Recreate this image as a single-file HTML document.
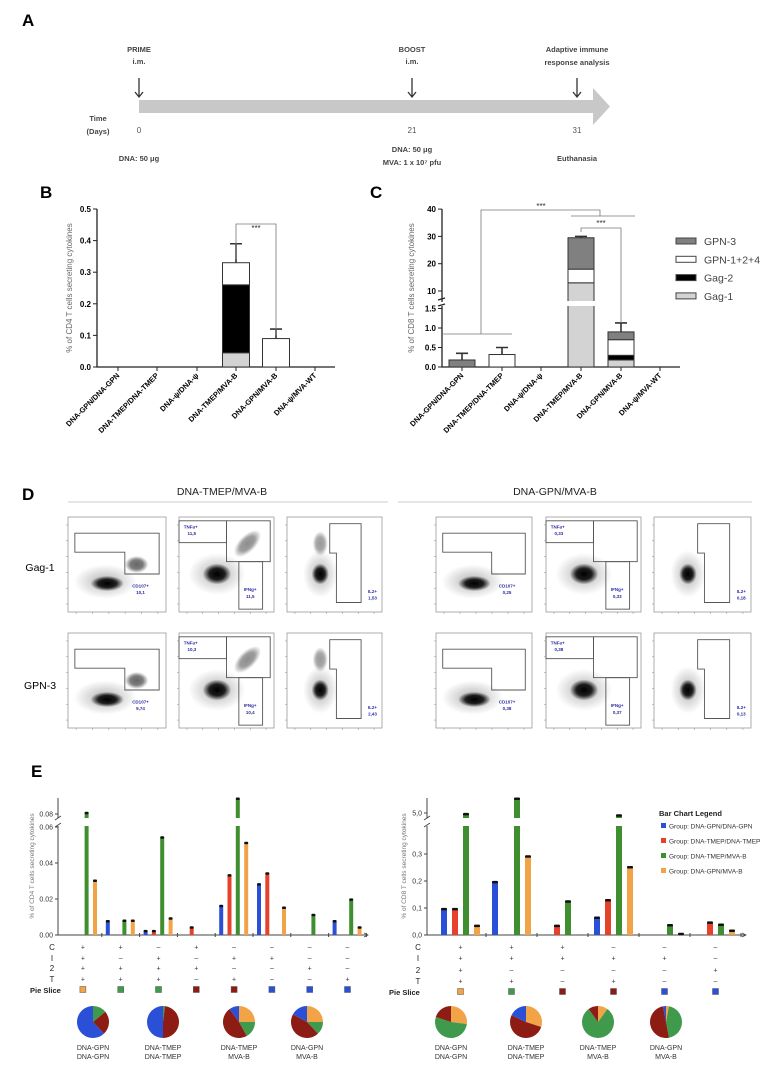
<!DOCTYPE html>
<html><head><meta charset="utf-8"><style>
html,body{margin:0;padding:0;background:#fff;}
svg{display:block;font-family:"Liberation Sans",sans-serif;}
</style></head><body>
<svg id="fig" width="766" height="1071" viewBox="0 0 766 1071" xmlns="http://www.w3.org/2000/svg">
<defs>
<radialGradient id="blob"><stop offset="0" stop-color="#000" stop-opacity="1"/><stop offset="0.55" stop-color="#000" stop-opacity="0.85"/><stop offset="1" stop-color="#000" stop-opacity="0"/></radialGradient>
<radialGradient id="cloud"><stop offset="0" stop-color="#000" stop-opacity="0.3"/><stop offset="1" stop-color="#000" stop-opacity="0"/></radialGradient>
</defs>
<!-- Panel A -->
<g>
<text x="22" y="26" font-size="17" font-weight="bold">A</text>
<rect x="139" y="100" width="456" height="13" fill="#c8c8c8"/>
<polygon points="593,88 610,106.5 593,125" fill="#c8c8c8"/>
<g font-size="7.5" fill="#444" text-anchor="middle" font-weight="bold">
<text x="139" y="52">PRIME</text><text x="139" y="64">i.m.</text>
<text x="412" y="52">BOOST</text><text x="412" y="64">i.m.</text>
<text x="577" y="52">Adaptive immune</text><text x="577" y="65">response analysis</text>
<text x="98" y="121">Time</text><text x="98" y="134">(Days)</text>
<text x="139" y="161">DNA: 50 μg</text>
<text x="412" y="152">DNA: 50 μg</text><text x="412" y="165">MVA: 1 x 10⁷ pfu</text>
<text x="577" y="161">Euthanasia</text>
</g>
<g font-size="8" fill="#555" text-anchor="middle">
<text x="139" y="133">0</text><text x="412" y="133">21</text><text x="577" y="133">31</text>
</g>
<g stroke="#333" stroke-width="1.3" fill="none">
<path d="M139 78V97M135 92L139 97L143 92"/><path d="M412 78V97M408 92L412 97L416 92"/><path d="M577 78V97M573 92L577 97L581 92"/>
</g>
</g>
<g id="pB"></g>
<g id="pC"></g>
<g id="pD"></g>
<g id="pE"></g>
</svg>
<script>
// ---------- data ----------
const groupsBC = ["DNA-GPN/DNA-GPN","DNA-TMEP/DNA-TMEP","DNA-ψ/DNA-ψ","DNA-TMEP/MVA-B","DNA-GPN/MVA-B","DNA-ψ/MVA-WT"];
const bGag1 = [0,0,0,0.045,0,0];
const bGag2 = [0,0,0,0.215,0,0];
const bGpn124 = [0,0,0,0.07,0.09,0];
const bErr = [null,null,null,0.39,0.12,null];
const cGag1 = [0,0,0,13,0.18,0];
const cGag2 = [0,0,0,0,0.12,0];
const cGpn124 = [0,0.32,0,5,0.4,0];
const cGpn3 = [0.18,0,0,11.5,0.2,0];
const cErr = [0.35,0.5,null,30,1.13,null];
const bTicks = [0,0.1,0.2,0.3,0.4,0.5];
const cTicksLow = [0,0.5,1.0,1.5];
const cTicksHigh = [10,20,30,40];
const legendC = ["GPN-3","GPN-1+2+4","Gag-2","Gag-1"];
// panel E
const eLeftBlue = [0,0.0075,0.002,0,0.016,0.028,0,0.0075];
const eLeftRed = [0,0,0.002,0.004,0.033,0.034,0,0];
const eLeftGreen = [0.0805,0.0078,0.054,0,0.09,0,0.011,0.0195];
const eLeftOrange = [0.030,0.0078,0.009,0,0.051,0.015,0,0.004];
const eLeftC = ["+","+","-","+","-","-","-","-"];
const eLeftI = ["+","-","+","-","+","+","-","-"];
const eLeft2 = ["+","+","+","+","-","-","+","-"];
const eLeftT = ["+","+","+","-","+","-","-","+"];
const eLeftPie = ["o","g","g","r","r","b","b","b"];
const eRightBlue = [0.095,0.195,0,0.063,0,0];
const eRightRed = [0.095,0,0.033,0.128,0,0.045];
const eRightGreen = [4.95,5.5,0.123,4.9,0.035,0.037];
const eRightOrange = [0.033,0.29,0,0.25,0.003,0.015];
const eRightC = ["+","+","+","-","-","-"];
const eRightI = ["+","+","+","+","+","-"];
const eRight2 = ["+","-","-","-","-","+"];
const eRightT = ["+","+","-","+","-","-"];
const eRightPie = ["o","g","r","r","b","b"];
const pieLabels = [["DNA-GPN","DNA-GPN"],["DNA-TMEP","DNA-TMEP"],["DNA-TMEP","MVA-B"],["DNA-GPN","MVA-B"]];
const pieLeft = [[0,0.14,0.24,0.62],[0,0.02,0.48,0.5],[0.25,0.17,0.48,0.1],[0.25,0.13,0.45,0.17]]; // orange, green, darkred, blue
const pieRight = [[0.27,0.53,0.2,0],[0.3,0,0.52,0.18],[0.1,0.8,0.1,0],[0.03,0.44,0.5,0.03]];
const legendE = ["Group: DNA-GPN/DNA-GPN","Group: DNA-TMEP/DNA-TMEP","Group: DNA-TMEP/MVA-B","Group: DNA-GPN/MVA-B"];

// ---------- helpers ----------
const NS="http://www.w3.org/2000/svg";
function mk(parent,tag,attrs,txt){const e=document.createElementNS(NS,tag);for(const k in attrs)e.setAttribute(k,attrs[k]);if(txt!==undefined)e.textContent=txt;parent.appendChild(e);return e;}
const COL={b:"#2b50d8",r:"#e5412b",g:"#3f8f30",o:"#f2a347",dr:"#8c1c14",pg:"#3f9a4c"};

// ---------- Panel B ----------
(function(){
const g=document.getElementById('pB');
mk(g,'text',{x:40,y:198,'font-size':17,'font-weight':'bold'},'B');
const x0=97,x1=335,yB=v=>367-v*316;
const cx=[118,157,197,236,276,315];
mk(g,'path',{d:`M${x0} ${yB(0.5)}V367H${x1}`,stroke:'#222','stroke-width':1.3,fill:'none'});
bTicks.forEach(t=>{mk(g,'line',{x1:x0-4,x2:x0,y1:yB(t),y2:yB(t),stroke:'#222'});
const l=mk(g,'text',{x:x0-6,y:yB(t)+3,'font-size':8,'font-weight':'bold','text-anchor':'end'},t.toFixed(1));

});
const yt=mk(g,'text',{x:72,y:288,'font-size':8,fill:'#666','text-anchor':'middle',transform:'rotate(-90 72 288)'},'% of CD4 T cells secreting cytokines');


groupsBC.forEach((n,i)=>{
 mk(g,'line',{x1:cx[i],x2:cx[i],y1:367,y2:371,stroke:'#222'});
 const t=mk(g,'text',{x:cx[i]+2,y:376,'font-size':7.5,'font-weight':'bold','text-anchor':'end',transform:`rotate(-45 ${cx[i]+2} 376)`},n);
 
 
 let base=0;const w=27;
 [[bGag1[i],'#d3d3d3'],[bGag2[i],'#000'],[bGpn124[i],'#fff']].forEach(([v,c])=>{
  if(v>0){const r=mk(g,'rect',{x:cx[i]-w/2,y:yB(base+v),width:w,height:yB(base)-yB(base+v),fill:c,stroke:'#333','stroke-width':1});
  
  }
  base+=v;});
 if(bErr[i]!=null){mk(g,'path',{d:`M${cx[i]} ${yB(base)}V${yB(bErr[i])}M${cx[i]-6} ${yB(bErr[i])}H${cx[i]+6}`,stroke:'#333','stroke-width':1.6});}
});
mk(g,'path',{d:`M236 ${yB(0.35)+3}V224H276V${yB(0.1)}`,stroke:'#777',fill:'none','stroke-width':0.8});
mk(g,'text',{x:256,y:231,'font-size':8,'text-anchor':'middle',fill:'#333'},'***');
})();

// ---------- Panel C ----------
(function(){
const g=document.getElementById('pC');
mk(g,'text',{x:370,y:198,'font-size':17,'font-weight':'bold'},'C');
const x0=442,x1=680;
const yC=v=>v<=1.5?367-v*39:291-(v-10)*2.73;
const cx=[462,502,541,581,621,660];
mk(g,'path',{d:`M${x0} 209V302M${x0} 306V367H${x1}`,stroke:'#222','stroke-width':1.3,fill:'none'});
mk(g,'path',{d:`M${x0-4} 300L${x0+3} 298M${x0-4} 306L${x0+3} 304`,stroke:'#222','stroke-width':1.2});
cTicksLow.forEach(t=>{mk(g,'line',{x1:x0-4,x2:x0,y1:yC(t),y2:yC(t),stroke:'#222'});
const l=mk(g,'text',{x:x0-6,y:yC(t)+3,'font-size':8,'font-weight':'bold','text-anchor':'end'},t.toFixed(1));

});
cTicksHigh.forEach(t=>{mk(g,'line',{x1:x0-4,x2:x0,y1:yC(t),y2:yC(t),stroke:'#222'});
const l=mk(g,'text',{x:x0-6,y:yC(t)+3,'font-size':8,'font-weight':'bold','text-anchor':'end'},String(t));

});
const yt=mk(g,'text',{x:414,y:288,'font-size':8,fill:'#666','text-anchor':'middle',transform:'rotate(-90 414 288)'},'% of CD8 T cells secreting cytokines');


groupsBC.forEach((n,i)=>{
 mk(g,'line',{x1:cx[i],x2:cx[i],y1:367,y2:371,stroke:'#222'});
 const t=mk(g,'text',{x:cx[i]+2,y:376,'font-size':7.5,'font-weight':'bold','text-anchor':'end',transform:`rotate(-45 ${cx[i]+2} 376)`},n);
 
 
 let base=0;const w=26;
 [[cGag1[i],'#d3d3d3'],[cGag2[i],'#000'],[cGpn124[i],'#fff'],[cGpn3[i],'#808080']].forEach(([v,c])=>{
  if(v>0){const r=mk(g,'rect',{x:cx[i]-w/2,y:yC(base+v),width:w,height:yC(base)-yC(base+v),fill:c,stroke:'#333','stroke-width':1});
  
  }
  base+=v;});
 if(base>1.5){mk(g,'rect',{x:cx[i]-w/2-1,y:301,width:w+2,height:5,fill:'#fff'});}
 if(cErr[i]!=null){mk(g,'path',{d:`M${cx[i]} ${yC(base)}V${yC(cErr[i])}M${cx[i]-6} ${yC(cErr[i])}H${cx[i]+6}`,stroke:'#333','stroke-width':1.6});}
});
mk(g,'path',{d:'M442 334H512M481 334V210H600V216M571 216H635',stroke:'#777',fill:'none','stroke-width':0.8});
mk(g,'text',{x:541,y:209,'font-size':8,'text-anchor':'middle',fill:'#333'},'***');
mk(g,'path',{d:'M581 232V228H621V323',stroke:'#777',fill:'none','stroke-width':0.8});
mk(g,'text',{x:601,y:226,'font-size':8,'text-anchor':'middle',fill:'#333'},'***');
const lc=['#808080','#fff','#000','#d3d3d3'];
legendC.forEach((n,i)=>{const y=241+i*18.3;
 const r=mk(g,'rect',{x:676,y:y-3,width:20,height:6,fill:lc[i],stroke:'#444'});
 
 
 const t=mk(g,'text',{x:704,y:y+4,'font-size':10.5,fill:'#444'},n);
 
 });
})();

// ---------- Panel D ----------
(function(){
const g=document.getElementById('pD');
mk(g,'text',{x:22,y:500,'font-size':17,'font-weight':'bold'},'D');
mk(g,'text',{x:222,y:495,'font-size':10.5,'text-anchor':'middle',fill:'#222'},'DNA-TMEP/MVA-B');
mk(g,'text',{x:555,y:495,'font-size':10.5,'text-anchor':'middle',fill:'#222'},'DNA-GPN/MVA-B');
mk(g,'line',{x1:68,x2:388,y1:502,y2:502,stroke:'#ccc'});
mk(g,'line',{x1:398,x2:752,y1:502,y2:502,stroke:'#ccc'});
mk(g,'text',{x:40,y:571,'font-size':10.5,'text-anchor':'middle'},'Gag-1');
mk(g,'text',{x:40,y:689,'font-size':10.5,'text-anchor':'middle'},'GPN-3');
const cols=[[68,166],[179,274],[287,382],[436,532],[546,641],[654,751]];
const rows=[[517,612],[633,728]];
const labels=[[["CD107+","10,1"],["TNFa+","11,5","IFNg+","11,5"],["IL2+","1,53"],["CD107+","0,25"],["TNFa+","0,33","IFNg+","0,33"],["IL2+","0,18"]],
[["CD107+","9,74"],["TNFa+","10,3","IFNg+","10,4"],["IL2+","2,43"],["CD107+","0,38"],["TNFa+","0,38","IFNg+","0,37"],["IL2+","0,13"]]];
rows.forEach((ry,ri)=>cols.forEach((cx,ci)=>{
 const x=cx[0],y=ry[0],w=cx[1]-cx[0],h=ry[1]-ry[0];const P=(fx,fy)=>`${x+fx*w},${y+fy*h}`;
 const pg=mk(g,'g',{});
 
 
 mk(pg,'rect',{x,y,width:w,height:h,fill:'#fff',stroke:'#999','stroke-width':0.8});
 const type=ci%3, strong=ci<3;
 const blob=(fx,fy,rx,ry,id)=>mk(pg,'ellipse',{cx:x+fx*w,cy:y+fy*h,rx:rx*w,ry:ry*h,fill:`url(#${id})`});
 const lab=labels[ri][ci];
 if(type===0){
  blob(0.38,0.68,0.32,0.18,'cloud');blob(0.4,0.7,0.17,0.08,'blob');
  if(strong)mk(pg,'ellipse',{cx:x+0.7*w,cy:y+0.5*h,rx:0.12*w,ry:0.09*h,fill:'url(#blob)',opacity:0.6});
  mk(pg,'polygon',{points:[P(0.07,0.17),P(0.93,0.17),P(0.93,0.6),P(0.58,0.6),P(0.58,0.37),P(0.07,0.37)].join(' '),fill:'none',stroke:'#555','stroke-width':0.9});
  mk(pg,'text',{x:x+0.74*w,y:y+0.74*h,'font-size':4.5,fill:'#2a2aa0','text-anchor':'middle','font-weight':'bold'},lab[0]);
  mk(pg,'text',{x:x+0.74*w,y:y+0.81*h,'font-size':4.5,fill:'#2a2aa0','text-anchor':'middle','font-weight':'bold'},lab[1]);
 } else if(type===1){
  blob(0.4,0.6,0.3,0.22,'cloud');blob(0.4,0.6,0.15,0.11,'blob');
  if(strong)mk(pg,'ellipse',{cx:x+0.72*w,cy:y+0.28*h,rx:0.18*w,ry:0.09*h,fill:'url(#blob)',opacity:0.45,transform:`rotate(-45 ${x+0.72*w} ${y+0.28*h})`});
  mk(pg,'rect',{x:x,y:y+0.04*h,width:0.5*w,height:0.23*h,fill:'none',stroke:'#555','stroke-width':0.9});
  mk(pg,'rect',{x:x+0.5*w,y:y+0.04*h,width:0.46*w,height:0.43*h,fill:'none',stroke:'#555','stroke-width':0.9});
  mk(pg,'rect',{x:x+0.63*w,y:y+0.47*h,width:0.25*w,height:0.5*h,fill:'none',stroke:'#555','stroke-width':0.9});
  mk(pg,'text',{x:x+0.05*w,y:y+0.12*h,'font-size':4.5,fill:'#2a2aa0','font-weight':'bold'},lab[0]);
  mk(pg,'text',{x:x+0.09*w,y:y+0.19*h,'font-size':4.5,fill:'#2a2aa0','font-weight':'bold'},lab[1]);
  mk(pg,'text',{x:x+0.75*w,y:y+0.78*h,'font-size':4.5,fill:'#2a2aa0','text-anchor':'middle','font-weight':'bold'},lab[2]);
  mk(pg,'text',{x:x+0.75*w,y:y+0.85*h,'font-size':4.5,fill:'#2a2aa0','text-anchor':'middle','font-weight':'bold'},lab[3]);
 } else {
  blob(0.35,0.6,0.18,0.25,'cloud');blob(0.35,0.6,0.09,0.11,'blob');
  if(strong)mk(pg,'ellipse',{cx:x+0.35*w,cy:y+0.28*h,rx:0.08*w,ry:0.13*h,fill:'url(#blob)',opacity:0.4});
  mk(pg,'polygon',{points:[P(0.45,0.07),P(0.78,0.07),P(0.78,0.9),P(0.52,0.9),P(0.52,0.38),P(0.45,0.38)].join(' '),fill:'none',stroke:'#555','stroke-width':0.9});
  mk(pg,'text',{x:x+0.9*w,y:y+0.8*h,'font-size':4.5,fill:'#2a2aa0','text-anchor':'middle','font-weight':'bold'},lab[0]);
  mk(pg,'text',{x:x+0.9*w,y:y+0.87*h,'font-size':4.5,fill:'#2a2aa0','text-anchor':'middle','font-weight':'bold'},lab[1]);
 }
 for(let k=0;k<6;k++){mk(pg,'line',{x1:x+(k+0.5)*w/6,x2:x+(k+0.5)*w/6,y1:y+h,y2:y+h+2,stroke:'#999','stroke-width':0.6});
  mk(pg,'line',{x1:x-2,x2:x,y1:y+(k+0.5)*h/6,y2:y+(k+0.5)*h/6,stroke:'#999','stroke-width':0.6});}
}));
})();

// ---------- Panel E ----------
(function(){
const g=document.getElementById('pE');
mk(g,'text',{x:31,y:777,'font-size':17,'font-weight':'bold'},'E');
function chart(o){
 const {x0,x1,y,ticksLow,ticksHigh,groupStart,gw,slot,bw,series,rowsData,rowY,rowX,pieRows,pieCX,title,titleX,fmt}=o;
 mk(g,'path',{d:`M${x0} 798V818M${x0} 826V935H${x1}`,stroke:'#444','stroke-width':1,fill:'none'});
 mk(g,'path',{d:`M${x0-3} 820L${x0+3} 816M${x0-3} 827L${x0+3} 823`,stroke:'#444','stroke-width':0.9});
 mk(g,'path',{d:`M${x1-3} 933L${x1+1} 935L${x1-3} 937`,stroke:'#444','stroke-width':0.8,fill:'none'});
 ticksLow.concat(ticksHigh).forEach(t=>{mk(g,'line',{x1:x0-3,x2:x0,y1:y(t),y2:y(t),stroke:'#444'});
  const l=mk(g,'text',{x:x0-5,y:y(t)+2.5,'font-size':7,'text-anchor':'end',fill:'#333'},fmt(t));
  
  });
 const yt=mk(g,'text',{x:titleX,y:866,'font-size':6.5,fill:'#777','text-anchor':'middle',transform:`rotate(-90 ${titleX} 866)`},title);
 
 
 const n=series[0].v.length;
 for(let i=0;i<n;i++){
  const gs=groupStart+i*gw;
  mk(g,'line',{x1:gs+gw,x2:gs+gw,y1:933,y2:937,stroke:'#444'});
  series.forEach((s,si)=>{const v=s.v[i];if(v<=0)return;
   const bx=gs+slot[si]-bw/2, top=y(v);
   const r=mk(g,'rect',{x:bx,y:top,width:bw,height:935-top,fill:s.c});
   
   
   if(top<818)mk(g,'rect',{x:bx-0.5,y:818,width:bw+1,height:8,fill:'#fff'});
   mk(g,'rect',{x:bx,y:top-1.5,width:bw,height:2.5,rx:1,fill:'#111'});
  });
  const cxg=gs+gw/2;
  rowsData.forEach((rd,ri)=>{mk(g,'text',{x:cxg,y:rowY[ri]+2.5,'font-size':7,'text-anchor':'middle',fill:'#333'},rd[i]==='-'?'–':'+');});
  const pc={o:COL.o,g:COL.pg,r:COL.dr,b:COL.b}[o.pie[i]];
  const sq=mk(g,'rect',{x:cxg-3,y:rowY[4]-3.5,width:6,height:6,fill:pc,stroke:'#555','stroke-width':0.5});
  
  
 }
 ['C','I','2','T'].forEach((l,ri)=>mk(g,'text',{x:rowX,y:rowY[ri]+3,'font-size':8,'text-anchor':'middle',fill:'#222'},l));
 mk(g,'text',{x:o.pieLabelX,y:rowY[4]+3,'font-size':7.5,fill:'#222','font-weight':'bold'},'Pie Slice');
 pieRows.forEach((fr,pi)=>{
  const cx=pieCX[pi],cy=1022,r=16;let a=0;
  const cols=[COL.o,COL.pg,COL.dr,COL.b];
  const pg=mk(g,'g',{});
  
  
  fr.forEach((f,k)=>{if(f<=0)return;
   const a0=a*2*Math.PI,a1=(a+f)*2*Math.PI;a+=f;
   const p0=[cx+r*Math.sin(a0),cy-r*Math.cos(a0)],p1=[cx+r*Math.sin(a1),cy-r*Math.cos(a1)];
   const sl=mk(pg,'path',{d:f>=0.999?`M${cx-r} ${cy}a${r} ${r} 0 1 0 ${2*r} 0a${r} ${r} 0 1 0 ${-2*r} 0`:`M${cx} ${cy}L${p0[0]} ${p0[1]}A${r} ${r} 0 ${f>0.5?1:0} 1 ${p1[0]} ${p1[1]}Z`,fill:cols[k]});
   
   
  });
  mk(g,'text',{x:cx,y:1050,'font-size':7,'text-anchor':'middle',fill:'#333'},pieLabels[pi][0]);
  mk(g,'text',{x:cx,y:1059,'font-size':7,'text-anchor':'middle',fill:'#333'},pieLabels[pi][1]);
 });
}
chart({x0:58,x1:367,y:v=>v<=0.065?935-v*1800:814-(v-0.08)*1500,ticksLow:[0,0.02,0.04,0.06],ticksHigh:[0.08],
 fmt:t=>t.toFixed(2),groupStart:64,gw:37.8,slot:[6,14.3,22.6,31],bw:4,
 series:[{v:eLeftBlue,c:COL.b},{v:eLeftRed,c:COL.r},{v:eLeftGreen,c:COL.g},{v:eLeftOrange,c:COL.o}],
 rowsData:[eLeftC,eLeftI,eLeft2,eLeftT],pie:eLeftPie,rowY:[947,958,968,979,990],rowX:52,pieLabelX:30,
 pieRows:pieLeft,pieCX:[93,163,239,307],title:'% of CD4 T cells secreting cytokines',titleX:34});
chart({x0:427,x1:745,y:v=>v<=0.4?935-v*270:813-(v-5)*28,ticksLow:[0,0.1,0.2,0.3],ticksHigh:[5],
 fmt:t=>t.toFixed(1).replace('.',','),groupStart:435,gw:51,slot:[9,20,31,42],bw:6,
 series:[{v:eRightBlue,c:COL.b},{v:eRightRed,c:COL.r},{v:eRightGreen,c:COL.g},{v:eRightOrange,c:COL.o}],
 rowsData:[eRightC,eRightI,eRight2,eRightT],pie:eRightPie,rowY:[947,958,970,981,992],rowX:418,pieLabelX:389,
 pieRows:pieRight,pieCX:[451,526,598,666],title:'% of CD8 T cells secreting cytokines',titleX:406});
mk(g,'text',{x:659,y:816,'font-size':7.5,'font-weight':'bold',fill:'#222'},'Bar Chart Legend');
const lcol=[COL.b,COL.r,COL.g,COL.o];
legendE.forEach((n,i)=>{const y=826+i*15;
 const r=mk(g,'rect',{x:661,y:y-3,width:5,height:5,fill:lcol[i]});
 
 
 const t=mk(g,'text',{x:669,y:y+2.5,'font-size':6.5,fill:'#333'},n);
 
 });
})();
</script>
</body></html>
